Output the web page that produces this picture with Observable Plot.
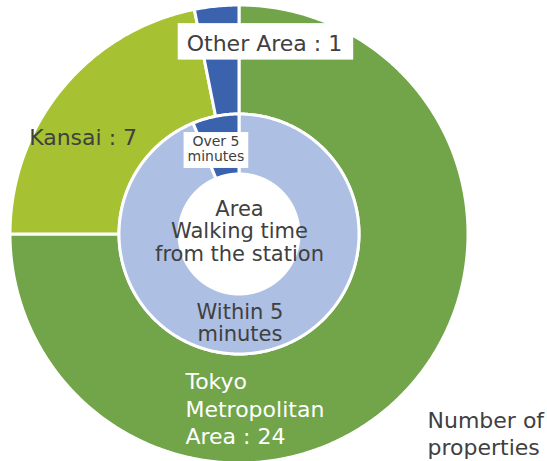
<!DOCTYPE html>
<html><head><meta charset="utf-8">
<script src="https://cdn.jsdelivr.net/npm/d3@7"></script>
<script src="https://cdn.jsdelivr.net/npm/@observablehq/plot@0.6"></script>
<style>html,body{margin:0;padding:0;background:#fff;overflow:hidden}</style>
</head><body><div id="chart"></div>
<script>
// ---- data ----
const areaCategories = ["Tokyo Metropolitan Area", "Kansai", "Other Area"];
const areaCounts = [24, 7, 1];
const areaColors = ["#72A44A", "#A6C232", "#3B62AD"];
const walkCategories = ["Within 5 minutes", "Over 5 minutes"];
const walkCounts = [30, 2];
const walkColors = ["#ADBFE3", "#3B62AD"];
const centerTitle = ["Area", "Walking time", "from the station"];
const valueTitle = ["Number of", "properties"];

// ---- ring geometry (unit radii) ----
const outerRing = [0.524, 1];
const innerRing = [0.262, 0.524];

function ringRows(cats, vals, cols, r0, r1, ring) {
  const arcs = d3.pie().sort(null).startAngle(0).endAngle(2 * Math.PI)(vals);
  const rows = [];
  arcs.forEach((a, i) => {
    const n = Math.max(2, Math.ceil((a.endAngle - a.startAngle) / (Math.PI / 360)) + 1);
    for (let k = 0; k < n; k++) {
      const t = a.startAngle + (a.endAngle - a.startAngle) * k / (n - 1);
      rows.push({key: ring + ":" + cats[i], color: cols[i],
        xo: r1 * Math.sin(t), yo: r1 * Math.cos(t),
        xi: r0 * Math.sin(t), yi: r0 * Math.cos(t)});
    }
  });
  return rows;
}
const rows = [
  ...ringRows(areaCategories, areaCounts, areaColors, outerRing[0], outerRing[1], "area"),
  ...ringRows(walkCategories, walkCounts, walkColors, innerRing[0], innerRing[1], "walk")
];

// ---- label layout ----
const ink = "#404040";
const labels = [
  {text: areaCategories[0].replace(/ /g, "\n") + " : " + areaCounts[0], x: -0.236, y: -0.913, size: 22, lh: 1.23, anchor: "start", color: "white"},
  {text: areaCategories[1] + " : " + areaCounts[1], x: -0.683, y: 0.393, size: 22, lh: 1.2, anchor: "middle", color: ink},
  {text: areaCategories[2] + " : " + areaCounts[2], x: 0.109, y: 0.803, size: 22, lh: 1.2, anchor: "middle", color: ink, box: [7.5, 11, 4, 9]},
  {text: walkCategories[0].replace(" minutes", "\nminutes"), x: 0.002, y: -0.465, size: 21, lh: 1.05, anchor: "middle", color: ink},
  {text: walkCategories[1].replace(" minutes", "\nminutes"), x: -0.103, y: 0.319, size: 14, lh: 1.1, anchor: "middle", color: ink, box: [1, 4, 3.5, 4]},
  {text: centerTitle.join("\n"), x: 0, y: -0.116, size: 21, lh: 1.08, anchor: "middle", color: ink},
  {text: valueTitle.join("\n"), x: 0.821, y: -0.961, size: 22, lh: 1.23, anchor: "start", color: ink}
];

const plot = Plot.plot({
  width: 547, height: 461, margin: 0,
  x: {domain: [-1, 1], range: [10, 468], axis: null},
  y: {domain: [-1, 1], range: [463, 5], axis: null},
  color: {type: "identity"},
  style: {fontFamily: "DejaVu Sans", background: "white"},
  marks: [
    Plot.area(rows, {x1: "xo", y1: "yo", x2: "xi", y2: "yi", z: "key", fill: "color",
      stroke: "white", strokeWidth: 3, strokeLinejoin: "round"}),
    ...labels.map(l => Plot.text([l], {x: "x", y: "y", text: "text", fontSize: l.size,
      lineHeight: l.lh, textAnchor: l.anchor, lineAnchor: "bottom", fill: l.color,
      fontFamily: "DejaVu Sans", ariaDescription: l.box ? "boxed" : undefined}))
  ]
});
document.getElementById("chart").appendChild(plot);

// white boxes behind boxed labels
const boxed = labels.filter(l => l.box);
let bi = 0;
plot.querySelectorAll('g[aria-description="boxed"] text').forEach(t => {
  const [pt, pr, pb, pl] = boxed[bi++].box;
  const b = t.getBBox();
  const r = document.createElementNS("http://www.w3.org/2000/svg", "rect");
  r.setAttribute("x", b.x - pl);
  r.setAttribute("y", b.y - pt);
  r.setAttribute("width", b.width + pl + pr);
  r.setAttribute("height", b.height + pt + pb);
  r.setAttribute("fill", "white");
  r.setAttribute("stroke", "none");
  if (t.getAttribute("transform")) r.setAttribute("transform", t.getAttribute("transform"));
  t.parentNode.insertBefore(r, t);
});
</script>
</body></html>
